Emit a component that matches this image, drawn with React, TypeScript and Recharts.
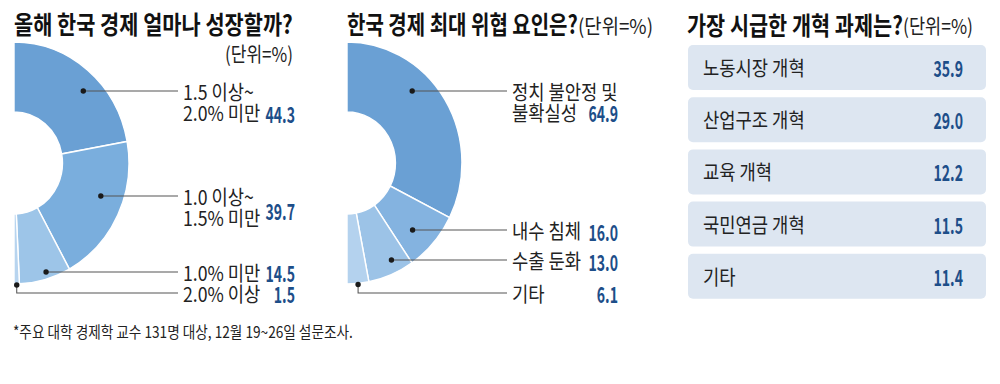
import React from "react";
import { PieChart, Pie, Cell, BarChart, Bar, XAxis, YAxis, LabelList } from "recharts";

// ---------- data ----------
const growthCategories: string[][] = [["1.5 이상~", "2.0% 미만"], ["1.0 이상~", "1.5% 미만"], ["1.0% 미만"], ["2.0% 이상"]];
const growthValues: number[] = [44.3, 39.7, 14.5, 1.5];

const riskCategories: string[][] = [["정치 불안정 및", "불확실성"], ["내수 침체"], ["수출 둔화"], ["기타"]];
const riskValues: number[] = [64.9, 16.0, 13.0, 6.1];

const reformCategories: string[] = ["노동시장 개혁", "산업구조 개혁", "교육 개혁", "국민연금 개혁", "기타"];
const reformValues: number[] = [35.9, 29.0, 12.2, 11.5, 11.4];

const titles = {
  growth: "올해 한국 경제 얼마나 성장할까?",
  risk: "한국 경제 최대 위협 요인은?",
  reform: "가장 시급한 개혁 과제는?",
  unit: "(단위=%)",
  note: "*주요 대학 경제학 교수 131명 대상, 12월 19~26일 설문조사.",
};

// ---------- styles ----------
const FONT = '"Noto Sans CJK KR", "Noto Sans", sans-serif';
const VALUE_COLOR = "#1d4e89";
const TEXT_COLOR = "#222";
const growthColors = ["#6aa0d4", "#7aaedd", "#9dc5e8", "#b7d4ef"];
const riskColors = ["#6aa0d4", "#84b3e0", "#9cc3e7", "#b4d2ee"];
const RAD = Math.PI / 180;
const SX = 0.95; // horizontal squeeze of the donuts

// text measuring (canvas), used to condense the font like the reference's narrow gothic
let _ctx: CanvasRenderingContext2D | null = null;
const _cache: Record<string, number> = {};
function measure(text: string, size: number, weight: number): number {
  const key = `${weight}|${size}|${text}`;
  if (_cache[key]) return _cache[key];
  if (!_ctx) {
    const c = document.createElement("canvas");
    _ctx = c.getContext("2d");
  }
  let w = text.length * size * 0.9;
  if (_ctx) {
    _ctx.font = `${weight} ${size}px ${FONT}`;
    w = _ctx.measureText(text).width || w;
  }
  _cache[key] = w;
  return w;
}
const fitS = (text: string, size: number, weight: number, target: number) => target / measure(text, size, weight);

const LABEL_SIZE = 20.5;
const VALUE_SIZE = 22;
const labelS = () => 16.3 / measure("가", LABEL_SIZE, 400);
const valueS = () => fitS("44.3", VALUE_SIZE, 700, 29.5);

type TProps = {
  x: number; y: number; size?: number; s?: number; weight?: number; fill?: string;
  anchor?: "start" | "middle" | "end"; children?: React.ReactNode;
};
function T({ x, y, size = LABEL_SIZE, s = 0.85, weight = 400, fill = TEXT_COLOR, anchor = "start", children }: TProps) {
  return (
    <text
      transform={`translate(${x} ${y}) scale(${s} 1)`}
      x={0}
      y={0}
      fontSize={size}
      fontWeight={weight}
      fill={fill}
      textAnchor={anchor}
      dominantBaseline="central"
      fontFamily={FONT}
    >
      {children}
    </text>
  );
}

type PieLayout = {
  rows: number[]; valueY: number[]; dotR: (number | null)[];
  textX: number; lineEndX: number; valueX: number; lineGap: number;
};

const growthLayout: PieLayout = {
  rows: [91, 196, 272, 293], valueY: [113, 210, 272, 293], dotR: [0.847, 0.803, 0.943, null],
  textX: 183, lineEndX: 178, valueX: 295, lineGap: 21,
};
const riskLayout: PieLayout = {
  rows: [91, 230, 260, 293], valueY: [112, 231, 261, 293], dotR: [0.822, 0.795, 0.89, null],
  textX: 182, lineEndX: 177, valueX: 288, lineGap: 21,
};

const makePieLabel = (cats: string[][], vals: number[], L: PieLayout) => (p: any) => {
  const { cx, cy, midAngle, outerRadius, index } = p;
  const lx = (x: number) => cx + (x - cx) / SX;
  const rowY = L.rows[index];
  const fr = L.dotR[index];
  const endX = lx(L.lineEndX);
  let dx: number, dy: number, pts: string;
  if (fr != null) {
    const r = outerRadius * fr;
    const ddy = rowY - cy;
    dx = cx + Math.sqrt(Math.max(r * r - ddy * ddy, 0));
    dy = rowY;
    pts = `${dx},${dy} ${endX},${rowY}`;
  } else {
    const r = outerRadius + 1;
    dx = cx + r * Math.cos(-midAngle * RAD);
    dy = cy + r * Math.sin(-midAngle * RAD);
    pts = `${dx},${dy} ${dx},${rowY} ${endX},${rowY}`;
  }
  const lines = cats[index];
  return (
    <g key={`lbl-${index}`}>
      <polyline points={pts} fill="none" stroke="#555" strokeWidth={1.1} />
      <ellipse cx={dx} cy={dy} rx={2.7 / SX} ry={2.7} fill="#1a1a1a" />
      {lines.map((ln, i) => (
        <T key={i} x={lx(L.textX)} y={rowY + i * L.lineGap} s={labelS() / SX}>{ln}</T>
      ))}
      <T x={lx(L.valueX)} y={L.valueY[index]} size={VALUE_SIZE} s={valueS() / SX} weight={700} fill={VALUE_COLOR} anchor="end">
        {vals[index].toFixed(1)}
      </T>
    </g>
  );
};

const growthData = growthValues.map((v, i) => ({ name: growthCategories[i].join(" "), value: v }));
const riskData = riskValues.map((v, i) => ({ name: riskCategories[i].join(" "), value: v }));
const reformData = reformCategories.map((c, i) => ({ name: c, value: reformValues[i] }));

const REFORM_W = 298;

const reformNameLabel = (props: any) => {
  const vb = props.viewBox || props;
  const x = vb.x ?? props.x;
  const y = vb.y ?? props.y;
  const h = vb.height ?? props.height;
  return (
    <T key={`n-${props.index}`} x={x + 15} y={y + h / 2} s={labelS()}>{props.value}</T>
  );
};
const reformValueLabel = (props: any) => {
  const vb = props.viewBox || props;
  const x = vb.x ?? props.x;
  const y = vb.y ?? props.y;
  const h = vb.height ?? props.height;
  return (
    <T key={`v-${props.index}`} x={x + REFORM_W - 23} y={y + h / 2} size={VALUE_SIZE} s={valueS()} weight={700} fill={VALUE_COLOR} anchor="end">
      {Number(props.value).toFixed(1)}
    </T>
  );
};

const PIE_CY = 163;

function Title({ x, y, text, w, unitW }: { x: number; y: number; text: string; w: number; unitW?: number }) {
  const TS = 25;
  const US = 20.5;
  return (
    <g>
      <T x={x} y={y} size={TS} s={fitS(text, TS, 700, w)} weight={700} fill="#111">{text}</T>
      {unitW ? <T x={x + w} y={y + 1} size={US} s={fitS(titles.unit, US, 400, unitW)}>{titles.unit}</T> : null}
    </g>
  );
}

export default function App() {
  return (
    <div
      style={{
        position: "absolute", left: 0, top: 0, width: 1000, height: 384,
        background: "#fff", overflow: "hidden", fontFamily: FONT,
      }}
    >
      {/* left donut */}
      <div style={{ position: "absolute", left: 0, top: 0, transform: `scaleX(${SX})`, transformOrigin: "14px 0px" }}>
        <PieChart width={340} height={310} margin={{ top: 0, right: 0, bottom: 0, left: 0 }}>
          <Pie
            data={growthData}
            dataKey="value"
            nameKey="name"
            cx={14}
            cy={PIE_CY}
            innerRadius={51}
            outerRadius={121}
            startAngle={90}
            endAngle={-90}
            stroke="#fff"
            strokeWidth={1.5}
            isAnimationActive={false}
            labelLine={false}
            label={makePieLabel(growthCategories, growthValues, growthLayout)}
          >
            {growthData.map((_, i) => (
              <Cell key={i} fill={growthColors[i]} />
            ))}
          </Pie>
        </PieChart>
      </div>

      {/* middle donut */}
      <div style={{ position: "absolute", left: 330, top: 0, transform: `scaleX(${SX})`, transformOrigin: "17px 0px" }}>
        <PieChart width={350} height={310} margin={{ top: 0, right: 0, bottom: 0, left: 0 }}>
          <Pie
            data={riskData}
            dataKey="value"
            nameKey="name"
            cx={17}
            cy={PIE_CY}
            innerRadius={51}
            outerRadius={121}
            startAngle={90}
            endAngle={-90}
            stroke="#fff"
            strokeWidth={1.5}
            isAnimationActive={false}
            labelLine={false}
            label={makePieLabel(riskCategories, riskValues, riskLayout)}
          >
            {riskData.map((_, i) => (
              <Cell key={i} fill={riskColors[i]} />
            ))}
          </Pie>
        </PieChart>
      </div>

      {/* right list */}
      <div style={{ position: "absolute", left: 688, top: 0 }}>
        <BarChart
          width={REFORM_W}
          height={310}
          data={reformData}
          layout="vertical"
          margin={{ top: 41, right: 0, bottom: 8, left: 0 }}
          barCategoryGap={0}
        >
          <XAxis type="number" domain={[0, 40]} hide />
          <YAxis type="category" dataKey="name" hide />
          <Bar
            dataKey="value"
            barSize={45}
            fill="none"
            background={{ fill: "#dde6f1", radius: 5 } as any}
            isAnimationActive={false}
          >
            <LabelList dataKey="name" content={reformNameLabel} />
            <LabelList dataKey="value" content={reformValueLabel} />
          </Bar>
        </BarChart>
      </div>

      {/* titles and note */}
      <svg width={1000} height={384} style={{ position: "absolute", left: 0, top: 0, pointerEvents: "none" }}>
        <Title x={14} y={23} text={titles.growth} w={279} />
        <T x={225} y={53} size={20.5} s={fitS(titles.unit, 20.5, 400, 68)}>{titles.unit}</T>
        <Title x={347} y={24} text={titles.risk} w={231} unitW={75} />
        <Title x={687} y={24} text={titles.reform} w={216} unitW={70} />
        <T x={13} y={331} size={16} s={fitS(titles.note, 16, 400, 340)}>{titles.note}</T>
      </svg>
    </div>
  );
}
